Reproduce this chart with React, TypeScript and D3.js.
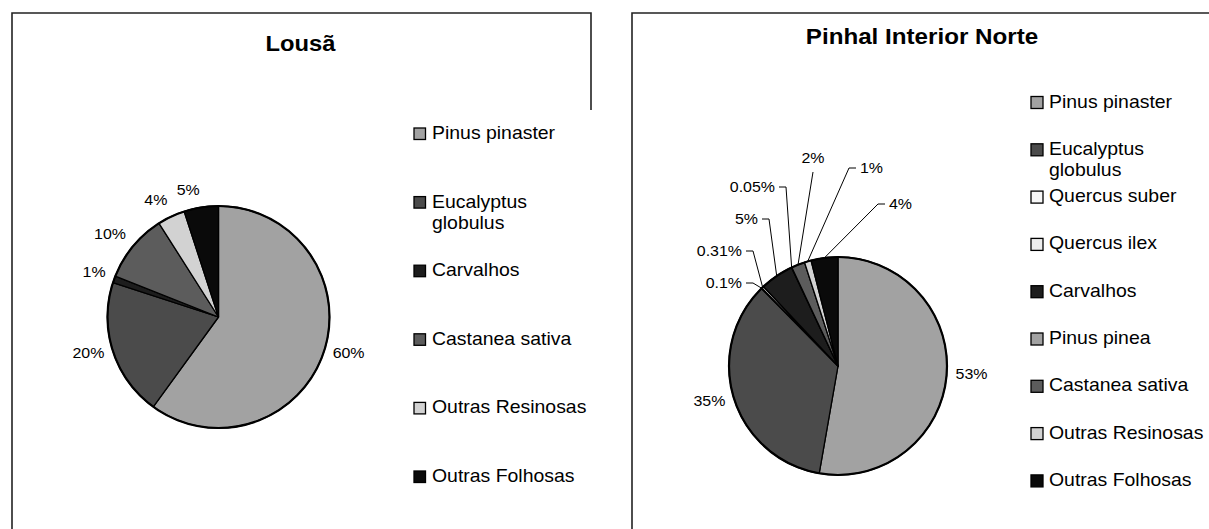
import React from "react";
import * as d3 from "d3";

const W = 1209;
const H = 529;

// Lousã
const lousaSpecies = ["Pinus pinaster", "Eucalyptus\nglobulus", "Carvalhos", "Castanea sativa", "Outras Resinosas", "Outras Folhosas"];
const lousaValues = [60, 20, 1, 10, 4, 5];

// Pinhal Interior Norte
const pinSpecies = ["Pinus pinaster", "Eucalyptus\nglobulus", "Quercus suber", "Quercus ilex", "Carvalhos", "Pinus pinea", "Castanea sativa", "Outras Resinosas", "Outras Folhosas"];
const pinValues = [53, 35, 0.1, 0.31, 5, 0.05, 2, 1, 4];

const fills: Record<string, string> = {
  "Pinus pinaster": "#a2a2a2",
  "Eucalyptus\nglobulus": "#4b4b4b",
  "Quercus suber": "#f7f7f7",
  "Quercus ilex": "#ededed",
  "Carvalhos": "#1d1d1d",
  "Pinus pinea": "#a2a2a2",
  "Castanea sativa": "#5c5c5c",
  "Outras Resinosas": "#d2d2d2",
  "Outras Folhosas": "#0a0a0a",
};

// hand-placed callouts of the small slices (offset from pie centre, text anchor)
const pinCallouts: Record<number, { dx: number; dy: number; anchor: string }> = {
  2: { dx: -96, dy: -83, anchor: "end" },
  3: { dx: -96, dy: -115, anchor: "end" },
  4: { dx: -80, dy: -147, anchor: "end" },
  5: { dx: -63, dy: -179, anchor: "end" },
  6: { dx: -25, dy: -208, anchor: "middle" },
  7: { dx: 22, dy: -198, anchor: "start" },
  8: { dx: 51, dy: -162, anchor: "start" },
};

const FONT = "'Liberation Sans', Arial, Helvetica, sans-serif";

function Txt({ x, y, k = 1, anchor = "start", size, bold = false, children }: any) {
  return (
    <text
      transform={`translate(${x},${y}) scale(${k},1)`}
      textAnchor={anchor}
      fontSize={size}
      fontWeight={bold ? "bold" : "normal"}
      fontFamily={FONT}
      fill="#000"
    >
      {children}
    </text>
  );
}

function Pie({ cx, cy, r, names, values, callouts = {} }: any) {
  const arcs = d3.pie<number>().sort(null).value((d) => d)(values);
  const arc = d3.arc<any>().innerRadius(0).outerRadius(r);
  const polar = (a: number, R: number) => [cx + R * Math.sin(a), cy - R * Math.cos(a)];
  const fmt = (v: number) => `${v}%`;

  return (
    <g>
      <g transform={`translate(${cx},${cy})`}>
        {arcs.map((a, i) => (
          <path key={i} d={arc(a) as string} fill={fills[names[i]]} stroke="#000" strokeWidth={1.3} strokeLinejoin="round" />
        ))}
        <circle r={r} fill="none" stroke="#000" strokeWidth={2.2} />
      </g>
      {arcs.map((a, i) => {
        const mid = (a.startAngle + a.endAngle) / 2;
        const co = callouts[i];
        if (co) {
          const tx = cx + co.dx;
          const ty = cy + co.dy;
          const [ex, ey] = polar(mid, r);
          let pts: number[][];
          if (co.anchor === "end") pts = [[tx + 4, ty], [tx + 11, ty], [ex, ey]];
          else if (co.anchor === "start") pts = [[tx - 4, ty], [tx - 11, ty], [ex, ey]];
          else pts = [[tx, ty + 14], [ex, ey]];
          return (
            <g key={i}>
              <path d={d3.line()(pts as any) as string} fill="none" stroke="#000" strokeWidth={1} />
              <Txt x={tx} y={ty + 5} k={1.14} anchor={co.anchor} size={14}>{fmt(values[i])}</Txt>
            </g>
          );
        }
        const s = Math.sin(mid);
        const c = Math.cos(mid);
        const [px, py] = polar(mid, r + 9);
        const anchor = s > 0.15 ? "start" : s < -0.15 ? "end" : "middle";
        const yc = py - c * 6 - 2.5;
        return (
          <Txt key={i} x={px} y={yc + 5} k={1.14} anchor={anchor} size={14}>{fmt(values[i])}</Txt>
        );
      })}
    </g>
  );
}

function Legend({ x, y0, step, box, names }: any) {
  return (
    <g>
      {names.map((n: string, i: number) => {
        const yb = y0 + i * step;
        const lines = n.split("\n");
        return (
          <g key={i}>
            <rect x={x} y={yb - 11} width={box} height={box} fill={fills[n]} stroke="#000" strokeWidth={1.3} />
            {lines.map((l, j) => (
              <Txt key={j} x={x + 18} y={yb + j * 21} k={1.08} size={18}>{l}</Txt>
            ))}
          </g>
        );
      })}
    </g>
  );
}

export default function App() {
  return (
    <svg width={W} height={H} style={{ position: "absolute", left: 0, top: 0, background: "#fff" }}>
      <rect width={W} height={H} fill="#fff" />
      <path d="M12,540 L12,13 L591,13 L591,110" fill="none" stroke="#222" strokeWidth={1.6} />
      <path d="M632,540 L632,13 L1220,13" fill="none" stroke="#222" strokeWidth={1.6} />

      <Txt x={300.5} y={50.5} k={1.08} anchor="middle" size={22} bold>Lousã</Txt>
      <Pie cx={218.5} cy={317} r={111} names={lousaSpecies} values={lousaValues} />
      <Legend x={414} y0={139} step={68.6} box={11.5} names={lousaSpecies} />

      <Txt x={922} y={43.5} k={1.1} anchor="middle" size={22} bold>Pinhal Interior Norte</Txt>
      <Pie cx={838} cy={366} r={109} names={pinSpecies} values={pinValues} callouts={pinCallouts} />
      <Legend x={1031} y0={107.5} step={47.3} box={12} names={pinSpecies} />
    </svg>
  );
}
